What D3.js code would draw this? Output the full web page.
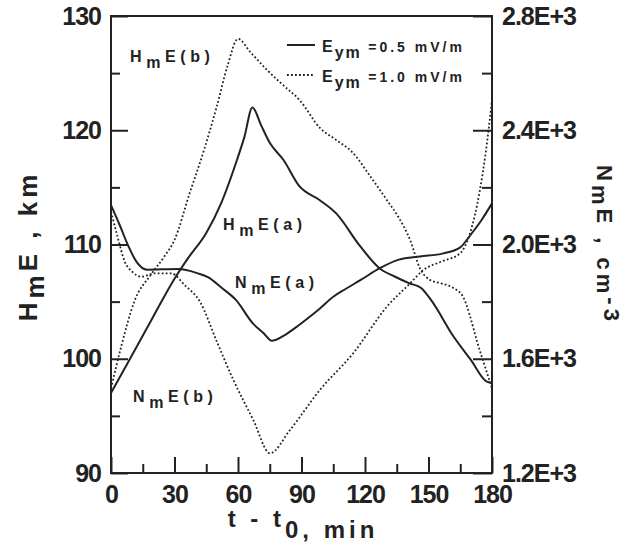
<!DOCTYPE html>
<html>
<head>
<meta charset="utf-8">
<script src="https://cdn.jsdelivr.net/npm/d3@7"></script>
<style>
  body { margin: 0; background: #fff; }
  text { font-family: "Liberation Sans", Arial, sans-serif; font-weight: bold; fill: #222; }
</style>
</head>
<body>
<div id="chart"></div>
<script>
// HmE(a) - solid line, left axis (km)
const tHmA = [0, 9, 20, 30, 36, 45, 52, 59.5, 63, 66.8, 71, 75, 81.5, 89, 98.5, 106.5, 117.5, 127, 134, 141, 146.5, 151, 162, 170, 177.5, 180];
const hmA  = [97.0, 100.0, 103.7, 107.0, 108.7, 111.0, 113.6, 117.4, 119.4, 122.0, 120.4, 118.9, 117.4, 115.1, 113.9, 112.7, 109.9, 107.9, 107.2, 106.6, 106.2, 105.2, 101.9, 99.9, 98.0, 97.9];

// NmE(a) - solid line, right axis (cm-3)
const tNmA = [0, 4, 8, 12, 17, 24, 32, 41, 46, 52, 59, 67, 72, 76, 81, 87, 93, 99, 105, 111, 118, 127, 136, 146, 157, 165, 170, 175, 180];
const nmA  = [2138, 2070, 1998, 1940, 1912, 1913, 1914, 1899, 1885, 1850, 1806, 1724, 1690, 1663, 1678, 1708, 1742, 1778, 1817, 1845, 1876, 1917, 1947, 1958, 1969, 1990, 2035, 2085, 2144];

// HmE(b) - dotted line, left axis (km)
const tHmB = [0, 5, 11, 19, 25, 30, 37, 44, 50, 55, 60, 66, 73.6, 81, 89.3, 98.7, 106, 114.4, 122, 130.3, 135.8, 141.3, 146, 150.7, 156, 161.7, 166.4, 169.5, 172.8, 176.7, 180];
const hmB  = [97.4, 101.2, 105.0, 107.4, 108.9, 110.4, 114.4, 118.3, 122.1, 125.6, 128.0, 126.8, 125.3, 124.0, 122.6, 120.2, 119.2, 118.0, 116.1, 113.9, 112.4, 110.4, 107.9, 106.9, 106.6, 106.2, 105.4, 103.8, 101.6, 99.3, 97.4];

// NmE(b) - dotted line, right axis (cm-3)
const tNmB = [0, 3, 6.5, 10, 14.3, 20.6, 28.5, 34.8, 42, 50, 57.8, 67.2, 75.1, 84.5, 98.7, 114.4, 130.3, 141.3, 147.6, 156, 164.9, 169.6, 174.3, 177, 180];
const nmB  = [2115, 2030, 1940, 1905, 1887, 1899, 1899, 1858, 1800, 1660, 1526, 1386, 1269, 1350, 1491, 1619, 1782, 1864, 1911, 1940, 1969, 2039, 2191, 2320, 2506];

// tick values
const xMajor = [0, 30, 60, 90, 120, 150, 180];
const xMinor = [15, 45, 75, 105, 135, 165];
const leftMajor = [90, 100, 110, 120, 130];
const leftMinor = [95, 105, 115, 125];
const rightMajor = [1200, 1600, 2000, 2400, 2800];
const rightMinor = [1400, 1800, 2200, 2600];

let width = 641, height = 545;
let margin = {top: 16, right: 149, bottom: 72, left: 111};
const ink = '#222';

let svg = d3.select('#chart').append('svg')
  .attr('width', width)
  .attr('height', height);

// scales
let x = d3.scaleLinear().domain([0, 180]).range([margin.left, width - margin.right]);
let yLeft = d3.scaleLinear().domain([90, 130]).range([height - margin.bottom, margin.top]);
let yRight = d3.scaleLinear().domain([1200, 2800]).range([height - margin.bottom, margin.top]);

// helper to style an axis group
function styleAxis(g, size) {
  g.select('.domain').remove();
  g.selectAll('line').attr('stroke', ink).attr('stroke-width', 2);
  g.selectAll('text')
    .attr('font-size', size)
    .attr('letter-spacing', -1)
    .attr('fill', ink);
}

// minor ticks (no labels)
svg.append('g').attr('transform', `translate(${margin.left},0)`)
  .call(d3.axisLeft(yLeft).tickValues(leftMinor).tickSize(-9).tickFormat(''))
  .call(g => styleAxis(g, 0));
svg.append('g').attr('transform', `translate(${width - margin.right},0)`)
  .call(d3.axisRight(yRight).tickValues(rightMinor).tickSize(-10).tickFormat(''))
  .call(g => styleAxis(g, 0));
svg.append('g').attr('transform', `translate(0,${height - margin.bottom})`)
  .call(d3.axisBottom(x).tickValues(xMinor).tickSize(-9).tickFormat(''))
  .call(g => styleAxis(g, 0));

// major ticks with labels
svg.append('g').attr('transform', `translate(${margin.left},0)`)
  .call(d3.axisLeft(yLeft).tickValues(leftMajor).tickSize(-17).tickPadding(10))
  .call(g => styleAxis(g, 25));
svg.append('g').attr('transform', `translate(${width - margin.right},0)`)
  .call(d3.axisRight(yRight).tickValues(rightMajor).tickSize(-19).tickPadding(10)
    .tickFormat(d => (d / 1000).toFixed(1) + 'E+3'))
  .call(g => styleAxis(g, 25));
svg.append('g').attr('transform', `translate(0,${height - margin.bottom})`)
  .call(d3.axisBottom(x).tickValues(xMajor).tickSize(-16).tickPadding(12))
  .call(g => styleAxis(g, 25));

// line generators
let lineLeft = d3.line().x(d => x(d[0])).y(d => yLeft(d[1])).curve(d3.curveMonotoneX);
let lineRight = d3.line().x(d => x(d[0])).y(d => yRight(d[1])).curve(d3.curveMonotoneX);

let curves = [
  {data: d3.zip(tHmA, hmA), gen: lineLeft, dash: null},
  {data: d3.zip(tNmA, nmA), gen: lineRight, dash: null},
  {data: d3.zip(tHmB, hmB), gen: lineLeft, dash: '1.8,2.2'},
  {data: d3.zip(tNmB, nmB), gen: lineRight, dash: '1.8,2.2'}
];

curves.forEach(c => {
  svg.append('path')
    .attr('d', c.gen(c.data))
    .attr('fill', 'none')
    .attr('stroke', ink)
    .attr('stroke-width', c.dash ? 1.8 : 2)
    .attr('stroke-dasharray', c.dash);
});

// frame
svg.append('rect')
  .attr('x', margin.left)
  .attr('y', margin.top)
  .attr('width', width - margin.left - margin.right)
  .attr('height', height - margin.top - margin.bottom)
  .attr('fill', 'none')
  .attr('stroke', ink)
  .attr('stroke-width', 2);

// curve labels: main letter, subscript m, rest
function subLabel(px, py, main, sub, rest, size, shift, spacing) {
  let t = svg.append('text')
    .attr('x', px).attr('y', py)
    .attr('font-size', size)
    .attr('letter-spacing', spacing);
  t.append('tspan').text(main);
  t.append('tspan').attr('dy', shift).text(sub);
  t.append('tspan').attr('dy', -shift).text(rest);
  return t;
}

subLabel(x(9), yLeft(126), 'H', 'm', 'E(b)', 16, 6, 4.6);
subLabel(x(52.9), yLeft(111.3), 'H', 'm', 'E(a)', 16, 6, 4.6);
subLabel(x(58.6), yLeft(106.2), 'N', 'm', 'E(a)', 16, 6, 4.6);
subLabel(x(10.4), yLeft(96.2), 'N', 'm', 'E(b)', 16, 6, 4.6);

// legend
const legendItems = [
  {dash: null, value: '=0.5 mV/m'},
  {dash: '1.8,2.2', value: '=1.0 mV/m'}
];
legendItems.forEach((item, i) => {
  let ly = 45 + i * 30;
  svg.append('line')
    .attr('x1', 287).attr('x2', 315)
    .attr('y1', ly).attr('y2', ly)
    .attr('stroke', ink)
    .attr('stroke-width', item.dash ? 1.8 : 2)
    .attr('stroke-dasharray', item.dash);
  let t = svg.append('text')
    .attr('x', 322).attr('y', ly + 7)
    .attr('font-size', 16)
    .attr('letter-spacing', 2);
  t.append('tspan').text('E');
  t.append('tspan').attr('dy', 6).text('ym ');
  t.append('tspan').attr('dy', -6).attr('font-size', 14).attr('letter-spacing', 3).text(item.value);
});

// axis titles
let leftTitle = svg.append('text')
  .attr('transform', 'translate(37,246) rotate(-90)')
  .attr('text-anchor', 'middle')
  .attr('font-size', 26)
  .attr('letter-spacing', 4);
leftTitle.append('tspan').text('H');
leftTitle.append('tspan').attr('dy', 7).text('m');
leftTitle.append('tspan').attr('dy', -7).text('E , km');

let rightTitle = svg.append('text')
  .attr('transform', 'translate(597,245) rotate(90)')
  .attr('text-anchor', 'middle')
  .attr('font-size', 22)
  .attr('letter-spacing', 4);
rightTitle.append('tspan').text('N');
rightTitle.append('tspan').attr('dy', 5).text('m');
rightTitle.append('tspan').attr('dy', -5).text('E , cm');
rightTitle.append('tspan').attr('dy', -7).text('-3');

let bottomTitle = svg.append('text')
  .attr('x', 303).attr('y', 527)
  .attr('text-anchor', 'middle')
  .attr('font-size', 24)
  .attr('letter-spacing', 4);
bottomTitle.append('tspan').text('t - t');
bottomTitle.append('tspan').attr('dy', 11).text('0, min');
</script>
</body>
</html>
